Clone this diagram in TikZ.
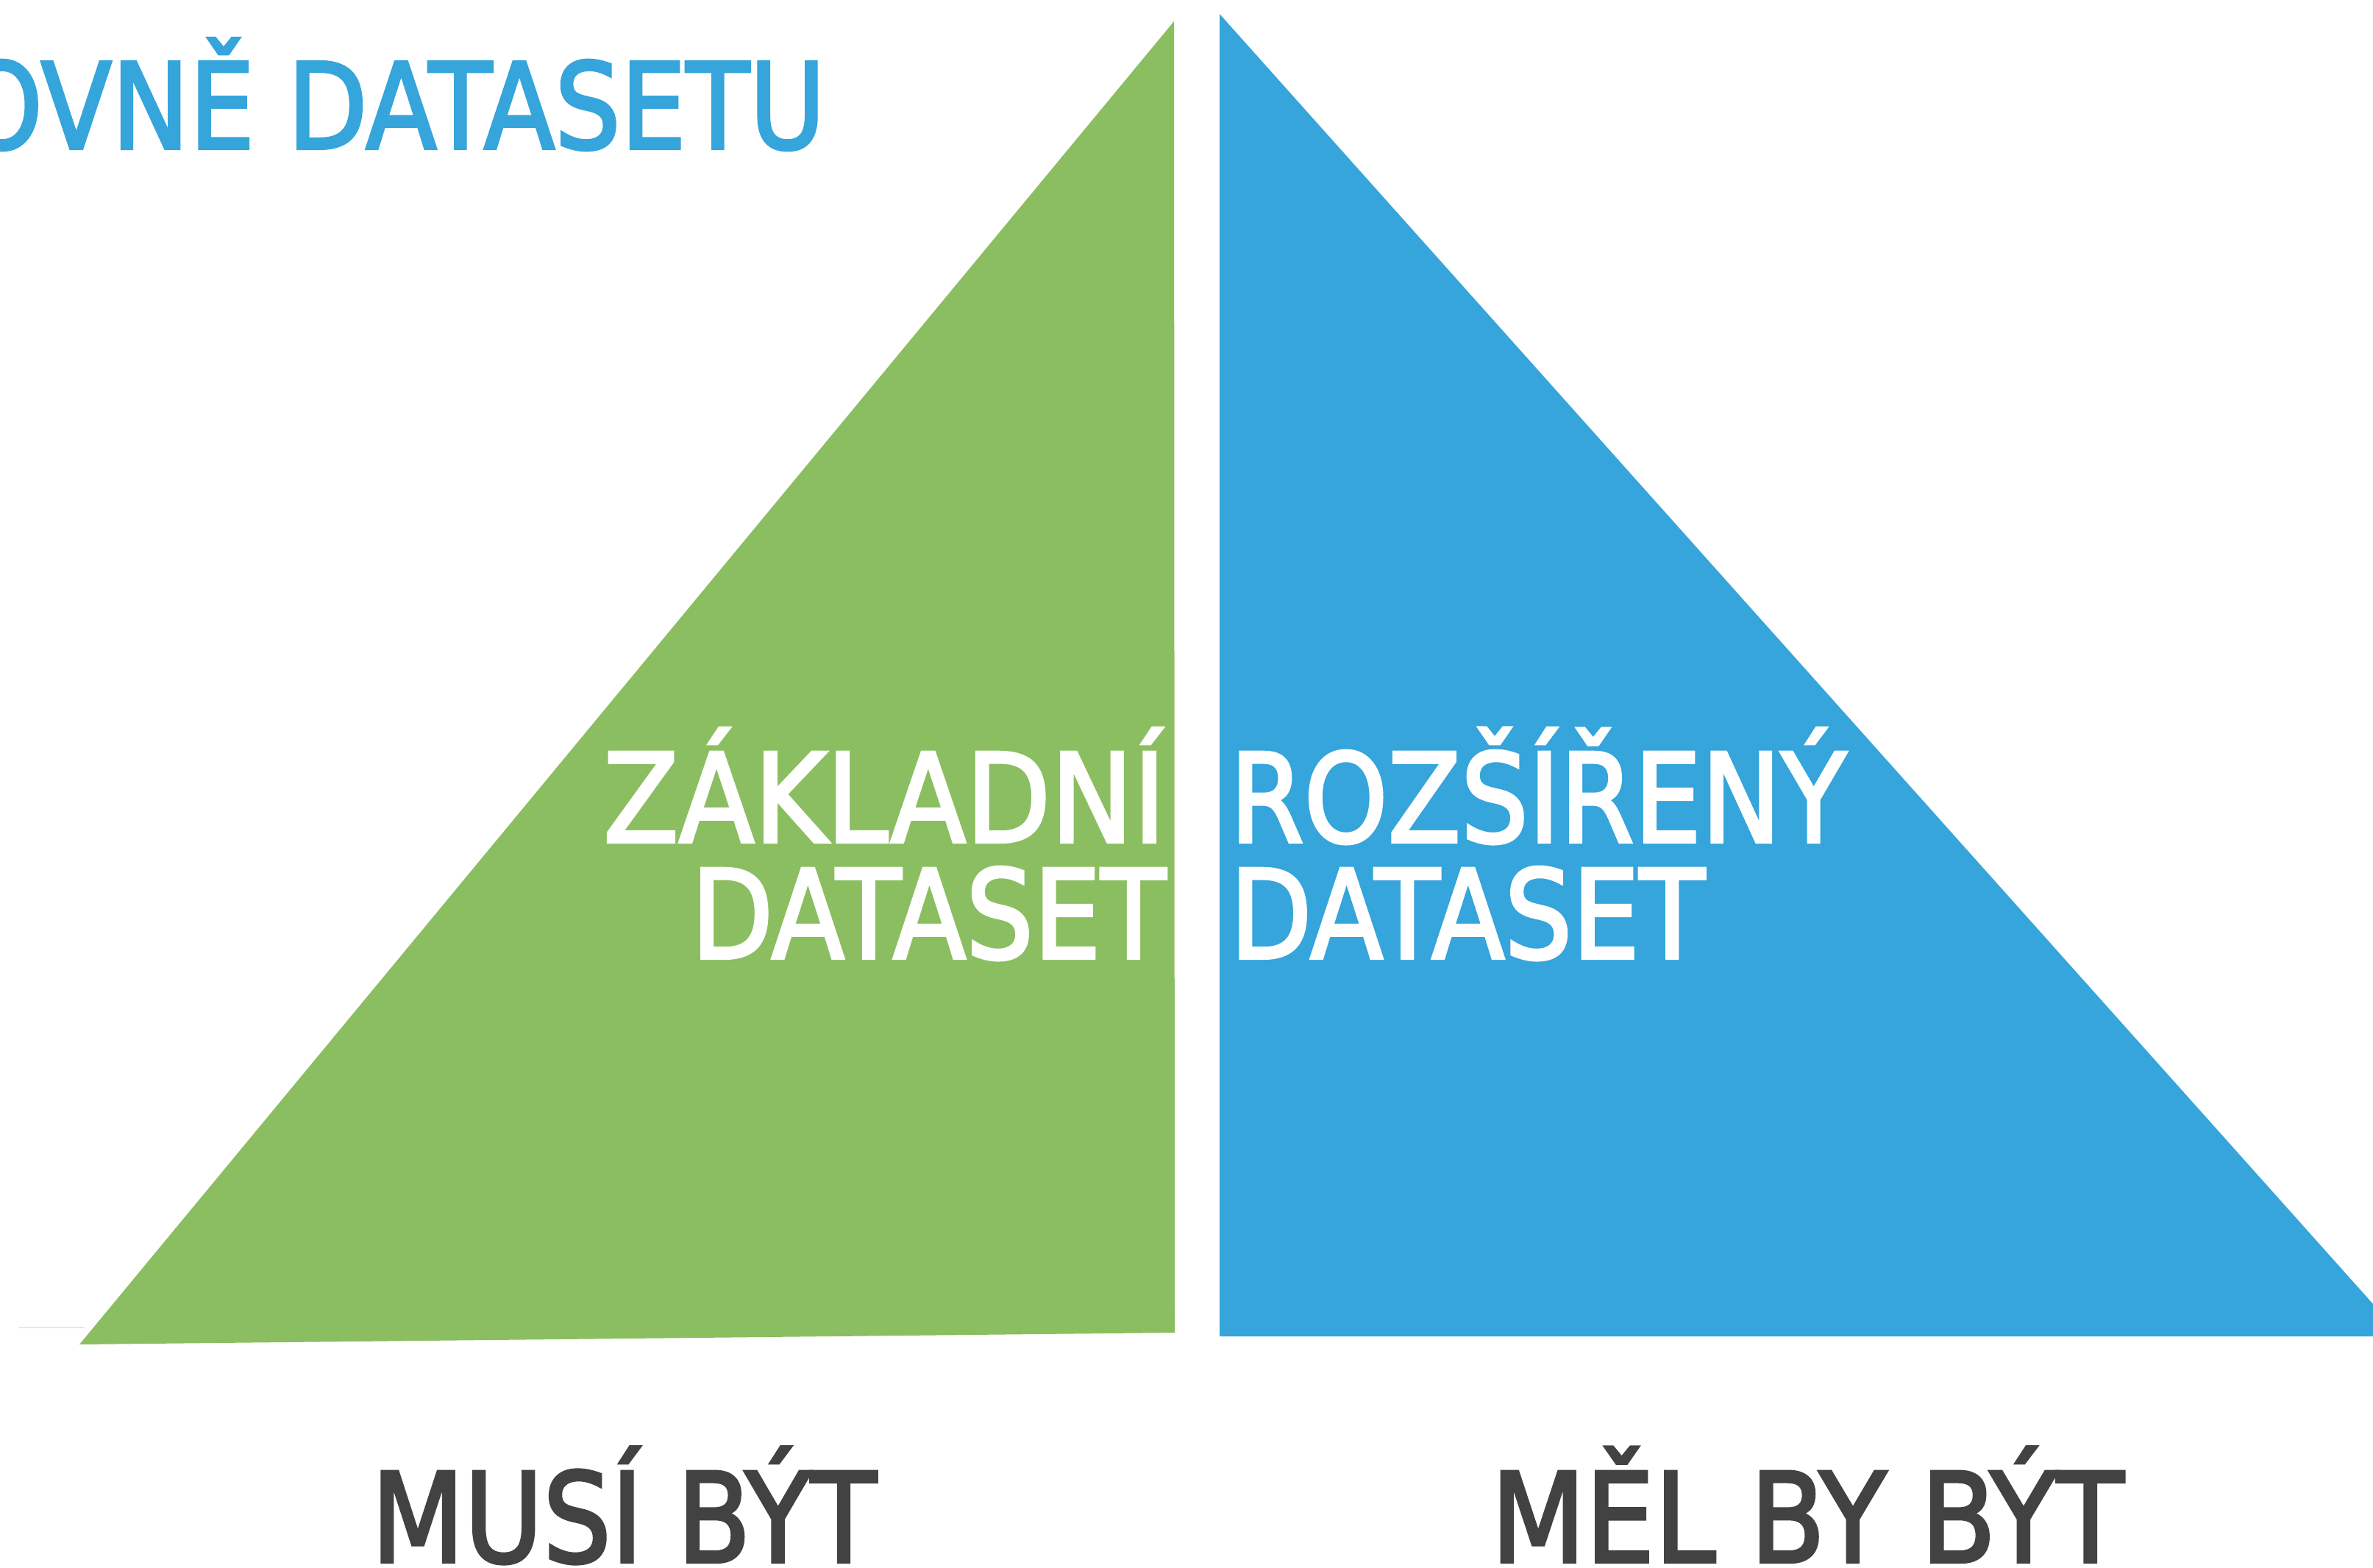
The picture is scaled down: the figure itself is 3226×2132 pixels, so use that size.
\documentclass[tikz,border=0pt]{standalone}
\usepackage{graphicx}
\usepackage{fontspec}
\setmainfont{DejaVu Sans}
\newfontfamily\dinf{DejaVu Sans}[FakeBold=2.6]
\definecolor{grn}{HTML}{8BBE60}
\definecolor{blu}{HTML}{35A5DB}
\definecolor{gry}{HTML}{424242}
\newcommand{\sqz}[2][0.875]{\scalebox{#1}[1]{#2}}
\begin{document}
\begin{tikzpicture}[x=0.2pt,y=-0.2pt,
  lbl/.style={inner sep=0pt, outer sep=0pt, font=\dinf\fontsize{33.5}{40}\selectfont},
  wlbl/.style={lbl, text=white}]
\useasboundingbox (0,0) rectangle (3226,2132);
% shapes
\fill[grn] (1596,29) -- (1597,1812) -- (108,1828) -- cycle;
\fill[blu] (1658,19) -- (3226,1773) -- (3226,1817) -- (1658,1817) -- cycle;
\draw[grn!25, line width=0.4pt] (25,1805) -- (115,1805);
% title
\node[lbl, anchor=base east, text=blu, font=\dinf\fontsize{32.4}{38}\selectfont] (title) at (1122,202) {\sqz[0.87]{OVNĚ DATASETU}};
% centre labels
\node[wlbl, anchor=base east] (z1) at (1585,1145) {\sqz[0.895]{ZÁKLADNÍ}};
\node[wlbl, anchor=base east] (z2) at (1585,1303) {\sqz[0.865]{DATASET}};
\node[wlbl, anchor=base west] (r1) at (1672,1145) {\sqz[0.865]{ROZŠÍŘENÝ}};
\node[wlbl, anchor=base west] (r2) at (1672,1303) {\sqz[0.865]{DATASET}};
% bottom labels
\node[lbl, anchor=base west, text=gry, font=\dinf\fontsize{33.8}{40}\selectfont] (must) at (505,2124) {\sqz[0.865]{MUSÍ BÝT}};
\node[lbl, anchor=base west, text=gry, font=\dinf\fontsize{33.8}{40}\selectfont] (should) at (2027,2124) {\sqz[0.88]{MĚL BY BÝT}};
\end{tikzpicture}
\end{document}
